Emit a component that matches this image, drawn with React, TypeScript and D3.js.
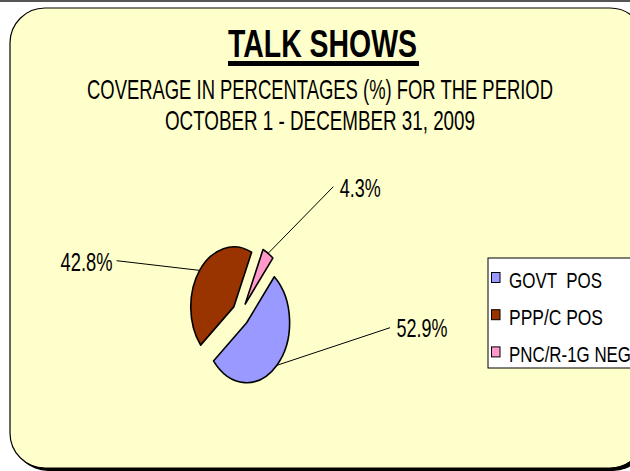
import React from 'react';
import * as d3 from 'd3';

// ---------- data ----------
const categories = ['GOVT  POS', 'PPP/C POS', 'PNC/R-1G NEG'];
const values = [52.9, 42.8, 4.3];
const valueLabels = ['52.9%', '42.8%', '4.3%'];
const colors = ['#9999FF', '#993300', '#FF99CC'];
const titleText = 'TALK SHOWS';
const subtitleLines = ['COVERAGE IN PERCENTAGES (%) FOR THE PERIOD', 'OCTOBER 1 - DECEMBER 31, 2009'];

// ---------- layout ----------
const W = 630;
const H = 471;
const FONT = "'Liberation Sans', Arial, Helvetica, sans-serif";
const BG = '#FFFFCC';

const cx = 240.6;
const cy = 314.2;
const rx = 43;
const ry = 60;
const explode = 0.2;
const startDeg = 40;

// leader-line end offset from pie centre, and text placement
const labelLayout = [
  { dx: 149.4, dy: 13.5, anchor: 'start', tx: 6.5, ty: 9.5, len: 51 },
  { dx: -124, dy: -53.5, anchor: 'end', tx: -4, ty: 10, len: 52 },
  { dx: 92.7, dy: -127.5, anchor: 'start', tx: 6.5, ty: 10.5, len: 41 },
];
const legendTextLen = [93, 94, 122];

export default function App() {
  const a0 = (startDeg * Math.PI) / 180;
  const pie = d3
    .pie<number>()
    .sort(null)
    .startAngle(a0)
    .endAngle(a0 + 2 * Math.PI);
  const arcs = pie(values);
  const arcGen = d3.arc<d3.PieArcDatum<number>>().innerRadius(0).outerRadius(1);

  const legendX = 488;
  const legendY = 258;
  const rowBase = d3.scaleLinear().domain([0, 1]).range([287.5, 324.7]);

  return (
    <svg
      width={W}
      height={H}
      viewBox={`0 0 ${W} ${H}`}
      style={{ position: 'absolute', left: 0, top: 0, background: '#fff' }}
    >
      <line x1={0} x2={W} y1={1} y2={1} stroke="#555" strokeWidth={2} />
      {/* frame with shadow */}
      <rect x={13} y={11} width={635} height={460} rx={35} ry={35} fill="#000" />
      <rect x={10} y={8} width={635} height={460} rx={35} ry={35} fill={BG} stroke="#000" strokeWidth={1.2} />

      {/* title */}
      <text
        x={322.5}
        y={56.5}
        textAnchor="middle"
        fontFamily={FONT}
        fontWeight="bold"
        fontSize={38}
        textLength={189}
        lengthAdjust="spacingAndGlyphs"
        fill="#000"
      >
        {titleText}
      </text>
      <rect x={228} y={61} width={191} height={5} fill="#000" />
      {subtitleLines.map((s, i) => (
        <text
          key={s}
          x={320}
          y={98.5 + i * 31}
          textAnchor="middle"
          fontFamily={FONT}
          fontSize={28}
          textLength={i === 0 ? 466 : 310}
          lengthAdjust="spacingAndGlyphs"
          fill="#000"
        >
          {s}
        </text>
      ))}

      {/* pie */}
      {arcs.map((a, i) => {
        const mid = (a.startAngle + a.endAngle) / 2;
        const sx = cx + explode * Math.sin(mid) * rx;
        const sy = cy - explode * Math.cos(mid) * ry;
        const px = sx + rx * Math.sin(mid);
        const py = sy - ry * Math.cos(mid);
        const L = labelLayout[i];
        const lx = cx + L.dx;
        const ly = cy + L.dy;
        return (
          <g key={i}>
            <path
              d={arcGen(a) || ''}
              transform={`translate(${sx},${sy}) scale(${rx},${ry})`}
              fill={colors[i]}
              stroke="#000"
              strokeWidth={1.6}
              vectorEffect="non-scaling-stroke"
              strokeLinejoin="round"
            />
            <line x1={px} y1={py} x2={lx} y2={ly} stroke="#000" strokeWidth={1} />
            <text
              x={lx + L.tx}
              y={ly + L.ty}
              textAnchor={L.anchor as any}
              fontFamily={FONT}
              fontSize={26}
              textLength={L.len}
              lengthAdjust="spacingAndGlyphs"
              fill="#000"
            >
              {valueLabels[i]}
            </text>
          </g>
        );
      })}

      {/* legend */}
      <rect x={legendX} y={legendY} width={170} height={110} fill="#fff" stroke="#000" strokeWidth={1} />
      {categories.map((c, i) => {
        const by = rowBase(i);
        return (
          <g key={c}>
            <rect x={491.5} y={by - 15} width={8.5} height={10} fill={colors[i]} stroke="#000" strokeWidth={1} />
            <text
              x={509}
              y={by}
              fontFamily={FONT}
              fontSize={22}
              textLength={legendTextLen[i]}
              lengthAdjust="spacingAndGlyphs"
              style={{ whiteSpace: 'pre' }}
              fill="#000"
            >
              {c}
            </text>
          </g>
        );
      })}
    </svg>
  );
}
